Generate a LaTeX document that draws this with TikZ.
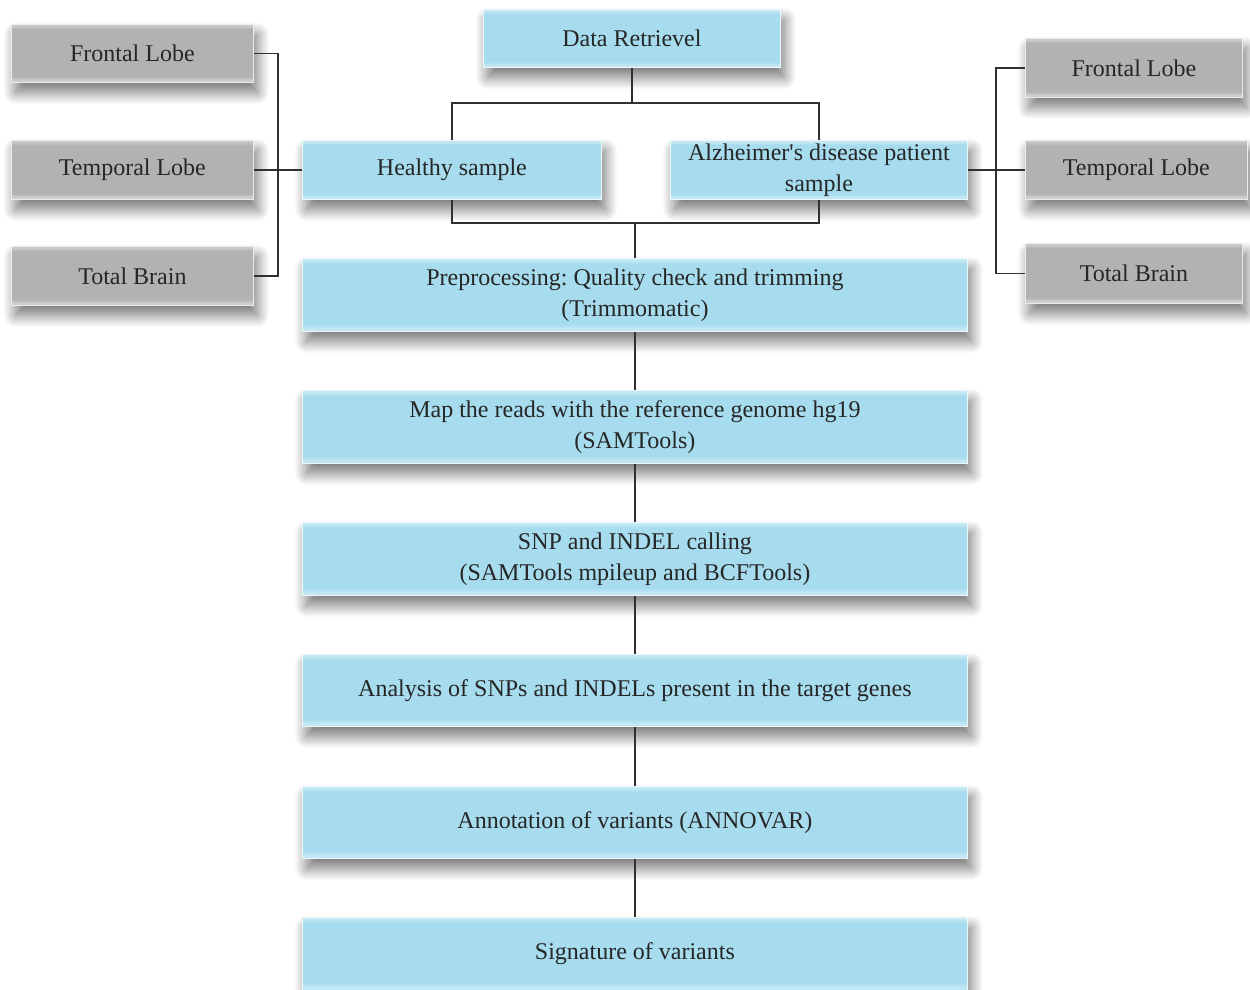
\documentclass[tikz,border=0pt]{standalone}
\usepackage{fontspec}
\setmainfont{Liberation Serif}
\usetikzlibrary{shadows.blur}
\definecolor{bA}{HTML}{A6DCEE}
\definecolor{bT}{HTML}{C6EAF5}
\definecolor{bL}{HTML}{C8EAF5}
\definecolor{gA}{HTML}{B2B2B2}
\definecolor{gT}{HTML}{CBCBCB}
\definecolor{gL}{HTML}{D4D4D4}
\definecolor{txt}{HTML}{262626}
\definecolor{ln}{HTML}{303030}
\pgfdeclareverticalshading{blueshade}{100bp}{color(0bp)=(bA); color(25bp)=(bA); color(26.5bp)=(bL); color(30bp)=(bA); color(71bp)=(bA); color(74bp)=(bT); color(75bp)=(bT); color(100bp)=(bT)}
\pgfdeclareverticalshading{grayshade}{100bp}{color(0bp)=(gA); color(25bp)=(gA); color(26.5bp)=(gL); color(30bp)=(gA); color(71bp)=(gA); color(74bp)=(gT); color(75bp)=(gT); color(100bp)=(gT)}
\tikzset{
  boxbase/.style={anchor=north west, inner sep=2pt, align=center, text=txt,
    font=\frenchspacing\fontsize{24}{31}\selectfont,
    blur shadow={shadow xshift=4pt, shadow yshift=-10pt, shadow blur radius=12pt, shadow blur steps=20, shadow opacity=55}},
  bluebox/.style={boxbase, shading=blueshade, draw=white!80!bA, line width=0.8pt},
  graybox/.style={boxbase, shading=grayshade, draw=white!75!gA, line width=0.8pt},
  conn/.style={draw=ln, line width=1.4pt}
}
\begin{document}
\begin{tikzpicture}[x=1pt,y=-1pt]
\useasboundingbox (0,0) rectangle (1250,990);
% top
\node[bluebox, minimum width=297pt, minimum height=58pt] (dr) at (483,9) {Data Retrievel};
\node[bluebox, minimum width=299pt, minimum height=59pt] (hs) at (302,140) {Healthy sample};
\node[bluebox, minimum width=297pt, minimum height=59pt] (ad) at (670,140) {Alzheimer\textquotesingle s disease patient\\sample};
% left
\node[graybox, minimum width=242pt, minimum height=58pt] (lf) at (11,24) {Frontal Lobe};
\node[graybox, minimum width=242pt, minimum height=59pt] (lt) at (11,140) {Temporal Lobe};
\node[graybox, minimum width=242pt, minimum height=59pt] (lb) at (11,246) {Total Brain};
% right
\node[graybox, minimum width=217pt, minimum height=59pt] (rf) at (1025,38) {Frontal Lobe};
\node[graybox, minimum width=222pt, minimum height=59pt] (rt) at (1025,140) {Temporal Lobe};
\node[graybox, minimum width=217pt, minimum height=60pt] (rb) at (1025,243) {Total Brain};
% main chain
\node[bluebox, minimum width=665pt, minimum height=73pt] (pre) at (302,258) {Preprocessing: Quality check and trimming\\(Trimmomatic)};
\node[bluebox, minimum width=665pt, minimum height=73pt] (map) at (302,390) {Map the reads with the reference genome hg19\\(SAMTools)};
\node[bluebox, minimum width=665pt, minimum height=73pt] (snp) at (302,522) {SNP and INDEL calling\\(SAMTools mpileup and BCFTools)};
\node[bluebox, minimum width=665pt, minimum height=72pt] (ana) at (302,654) {Analysis of SNPs and INDELs present in the target genes};
\node[bluebox, minimum width=665pt, minimum height=72pt] (ann) at (302,786) {Annotation of variants (ANNOVAR)};
\node[bluebox, minimum width=665pt, minimum height=73pt] (sig) at (302,917) {Signature of variants};
% junctions
\coordinate (j1) at (dr.south |- 0,103);
\coordinate (j2) at (pre.north |- 0,223);
\coordinate (l1) at (278,170);
\coordinate (r1) at (996,170);
% connectors
\draw[conn] (dr.south) -- (j1);
\draw[conn] (hs.north) |- (j1) -| (ad.north);
\draw[conn] (hs.south) |- (j2) -| (ad.south);
\draw[conn] (j2) -- (pre.north);
\draw[conn] (lf.east) -| (l1) |- (lb.east);
\draw[conn] (lt.east) -- (hs.west);
\draw[conn] (rf.west) -| (r1) |- (rb.west);
\draw[conn] (ad.east) -- (rt.west);
\draw[conn] (pre.south) -- (map.north);
\draw[conn] (map.south) -- (snp.north);
\draw[conn] (snp.south) -- (ana.north);
\draw[conn] (ana.south) -- (ann.north);
\draw[conn] (ann.south) -- (sig.north);
\end{tikzpicture}
\end{document}
